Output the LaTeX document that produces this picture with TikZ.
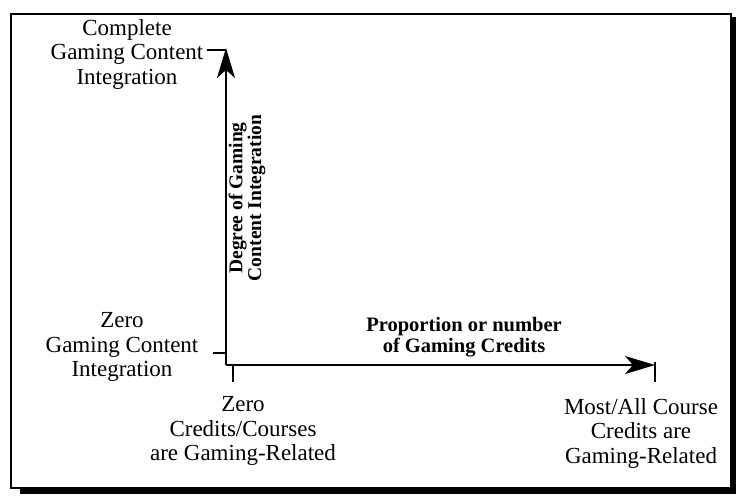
\documentclass[tikz,border=0pt]{standalone}
\usepackage{fontspec}
\setmainfont{Liberation Serif}
\usetikzlibrary{arrows.meta}
\begin{document}
\begin{tikzpicture}[x=1pt,y=-1pt,
  lbl/.style={align=center,inner sep=0pt,font=\fontsize{23}{24.5}\selectfont},
  blbl/.style={align=center,inner sep=0pt,font=\fontsize{20.5}{21}\selectfont\bfseries},
  vlbl/.style={align=center,inner sep=0pt,rotate=90,font=\fontsize{19.5}{15.5}\selectfont\bfseries},
  axis/.style={line width=#1,-{Stealth[length=30pt,width=18pt,inset=8pt]}},
  tick/.style={line width=1.8pt}]
\useasboundingbox (0,0) rectangle (737,496);
% frame with shadow
\fill[black] (731,17) rectangle (736,494);
\fill[black] (20,487) rectangle (736,494);
\draw[line width=1.5pt] (11,14) rectangle (731,488);
% axis coordinates
\coordinate (O) at (226,365);
\coordinate (ytop) at (226,48);
\coordinate (xend) at (655,365);
\coordinate (ty1) at (207,50);
\coordinate (ty2) at (226,50);
\coordinate (tz1) at (213,353);
\coordinate (tz2) at (226,353);
\coordinate (tx1) at (233,366);
\coordinate (tx2) at (233,382);
\coordinate (te1) at (655,362);
\coordinate (te2) at (655,382);
% axes
\draw[axis=1.2pt] (O) -- (ytop);
\draw[axis=2pt] (O) -- (xend);
\draw[tick] (ty1) -- (ty2);
\draw[tick] (tz1) -- (tz2);
\draw[tick] (tx1) -- (tx2);
\draw[tick] (te1) -- (te2);
% labels
\node[lbl] (ctop) at (127,54) {Complete\\Gaming Content\\Integration};
\node[lbl] (czero) at (122,347) {Zero\\Gaming Content\\Integration};
\node[lbl] (xzero) at (243,431) {Zero\\Credits/Courses\\are Gaming-Related};
\node[lbl] (xmost) at (641,433) {Most/All Course\\Credits are\\Gaming-Related};
\node[blbl] (xlab) at (464,337) {Proportion or number\\of Gaming Credits};
\node[vlbl] (ylab) at (247,198) {Degree of Gaming\\Content Integration};
\end{tikzpicture}
\end{document}
